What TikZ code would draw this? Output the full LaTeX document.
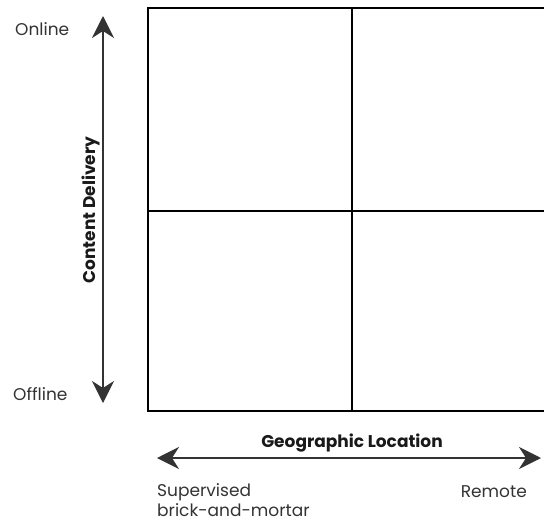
\documentclass[tikz,border=0pt]{standalone}
\usepackage{fontspec}
\setmainfont{Poppins}
\usetikzlibrary{arrows.meta}
\begin{document}
\begin{tikzpicture}[x=1pt,y=-1pt,
  grid/.style={line width=1.3pt,black},
  axis/.style={line width=1.8pt,black!80,{Stealth[length=22pt,width=22pt,inset=7pt]}-{Stealth[length=22pt,width=22pt,inset=7pt]}},
  lbl/.style={font=\fontsize{17}{18}\selectfont,text=black!80,inner sep=0pt},
  ttl/.style={font=\fontsize{17}{18}\selectfont\bfseries,text=black!90,inner sep=0pt}]
\useasboundingbox (0,0) rectangle (544,522);
\begin{scope}
\clip (0,0) rectangle (544,522);
\draw[grid] (148,8) rectangle (556,411);
\draw[grid] (352,8) -- (352,411);
\draw[grid] (148,211) -- (556,211);
\end{scope}
\coordinate (vt) at (103,16);
\coordinate (vb) at (103,403);
\coordinate (hl) at (157,458);
\coordinate (hr) at (541,458);
\draw[axis] (vt) -- (vb);
\draw[axis] (hl) -- (hr);
\node[lbl,anchor=west] (on) at (15,29) {Online};
\node[lbl,anchor=west] (off) at (13,394) {Offline};
\node[ttl,rotate=90] (cd) at (91,210) {Content Delivery};
\node[ttl] (gl) at (352,443) {Geographic Location};
\node[lbl,anchor=west] (sup) at (157,492) {Supervised};
\node[lbl,anchor=west] (bm) at (157,510) {brick-and-mortar};
\node[lbl,anchor=east] (rem) at (527,492) {Remote};
\end{tikzpicture}
\end{document}
